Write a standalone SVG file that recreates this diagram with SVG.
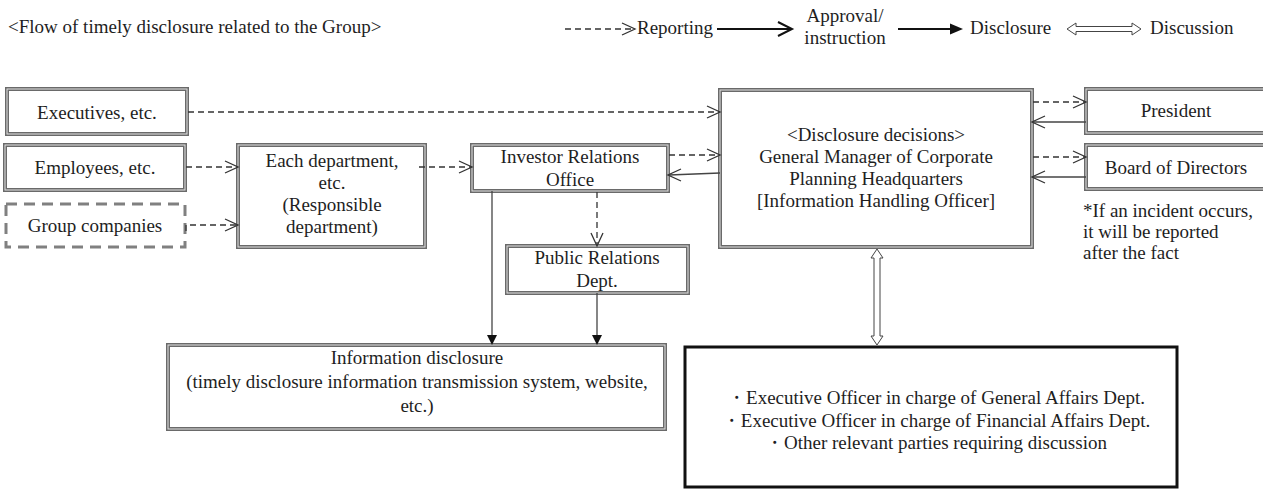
<svg xmlns="http://www.w3.org/2000/svg" width="1263" height="489" viewBox="0 0 1263 489">
  <defs>
    <style>
      text { font-family: "Liberation Serif", "Times New Roman", serif; font-size: 19px; fill: #1e1e1e; }
      .c { text-anchor: middle; }
      .b1 { fill: #fff; stroke: #6a6a6a; stroke-width: 4; }
      .b2 { fill: none; stroke: #e2e2e2; stroke-width: 1; }
      .dbox { fill: #fff; stroke: #808080; stroke-width: 3; stroke-dasharray: 11 7; }
      .bold { fill: #fff; stroke: #111; stroke-width: 3; }
      .dash { fill: none; stroke: #333; stroke-width: 1.3; stroke-dasharray: 6 4; }
      .sol { fill: none; stroke: #444; stroke-width: 1.3; }
      .head { fill: none; stroke: #333; stroke-width: 1.3; }
      .fhead { fill: #111; stroke: none; }
      .hollow { fill: #fff; stroke: #444; stroke-width: 1; }
    </style>
  </defs>

  <!-- Title and legend -->
  <g id="title">
    <text x="8" y="33">&lt;Flow of timely disclosure related to the Group&gt;</text>
  </g>
  <g id="legend">
    <line class="dash" x1="565" y1="29" x2="633" y2="29"/>
    <polyline class="head" points="622,23 635,29 622,35"/>
    <text x="637" y="34">Reporting</text>
    <line x1="717" y1="29" x2="790" y2="29" stroke="#111" stroke-width="2"/>
    <polyline points="778,22 792,29 778,36" fill="none" stroke="#111" stroke-width="2"/>
    <text class="c" x="845" y="22">Approval/</text>
    <text class="c" x="845" y="44">instruction</text>
    <line x1="898" y1="29" x2="952" y2="29" stroke="#111" stroke-width="2"/>
    <polygon class="fhead" points="950,23.5 963,29 950,34.5"/>
    <text x="970" y="34">Disclosure</text>
    <path class="hollow" d="M1067,29 L1076,23 L1076,26.5 L1132,26.5 L1132,23 L1141,29 L1132,35 L1132,31.5 L1076,31.5 L1076,35 Z"/>
    <text x="1150" y="34">Discussion</text>
  </g>

  <!-- Nodes -->
  <g id="executives">
    <rect class="b1" x="7" y="89" width="180" height="45"/>
    <rect class="b2" x="7" y="89" width="180" height="45"/>
    <text class="c" x="97" y="119">Executives, etc.</text>
  </g>
  <g id="employees">
    <rect class="b1" x="5" y="145" width="180" height="45"/>
    <rect class="b2" x="5" y="145" width="180" height="45"/>
    <text class="c" x="95" y="174">Employees, etc.</text>
  </g>
  <g id="group-companies">
    <rect class="dbox" x="6" y="204" width="179" height="43"/>
    <text class="c" x="95" y="232">Group companies</text>
  </g>
  <g id="each-department">
    <rect class="b1" x="238" y="145" width="187" height="102"/>
    <rect class="b2" x="238" y="145" width="187" height="102"/>
    <text class="c" x="332" y="167">Each department,</text>
    <text class="c" x="332" y="189">etc.</text>
    <text class="c" x="332" y="211">(Responsible</text>
    <text class="c" x="332" y="233">department)</text>
  </g>
  <g id="investor-relations">
    <rect class="b1" x="472" y="145" width="196" height="46"/>
    <rect class="b2" x="472" y="145" width="196" height="46"/>
    <text class="c" x="570" y="163">Investor Relations</text>
    <text class="c" x="570" y="186">Office</text>
  </g>
  <g id="public-relations">
    <rect class="b1" x="507" y="246" width="181" height="47"/>
    <rect class="b2" x="507" y="246" width="181" height="47"/>
    <text class="c" x="597" y="264">Public Relations</text>
    <text class="c" x="597" y="287">Dept.</text>
  </g>
  <g id="disclosure-decisions">
    <rect class="b1" x="720" y="90" width="312" height="157"/>
    <rect class="b2" x="720" y="90" width="312" height="157"/>
    <text class="c" x="876" y="141">&lt;Disclosure decisions&gt;</text>
    <text class="c" x="876" y="163">General Manager of Corporate</text>
    <text class="c" x="876" y="185">Planning Headquarters</text>
    <text class="c" x="876" y="207">[Information Handling Officer]</text>
  </g>
  <g id="president">
    <rect class="b1" x="1086" y="89" width="180" height="44"/>
    <rect class="b2" x="1086" y="89" width="180" height="44"/>
    <text class="c" x="1176" y="117">President</text>
  </g>
  <g id="board">
    <rect class="b1" x="1086" y="145" width="180" height="44"/>
    <rect class="b2" x="1086" y="145" width="180" height="44"/>
    <text class="c" x="1176" y="174">Board of Directors</text>
  </g>
  <g id="footnote">
    <text x="1083" y="217">*If an incident occurs,</text>
    <text x="1083" y="238">it will be reported</text>
    <text x="1083" y="259">after the fact</text>
  </g>
  <g id="information-disclosure">
    <rect class="b1" x="168" y="345" width="497" height="84"/>
    <rect class="b2" x="168" y="345" width="497" height="84"/>
    <text class="c" x="417" y="364">Information disclosure</text>
    <text class="c" x="417" y="388">(timely disclosure information transmission system, website,</text>
    <text class="c" x="417" y="412">etc.)</text>
  </g>
  <g id="discussion-parties">
    <rect class="bold" x="685" y="347" width="492" height="140"/>
    <text class="c" x="936" y="404">・Executive Officer in charge of General Affairs Dept.</text>
    <text class="c" x="936" y="427">・Executive Officer in charge of Financial Affairs Dept.</text>
    <text class="c" x="936" y="449">・Other relevant parties requiring discussion</text>
  </g>

  <!-- Connectors -->
  <g id="connectors">
    <line class="dash" x1="188" y1="112" x2="719" y2="112"/>
    <polyline class="head" points="707,106 720,112 707,118"/>
    <line class="dash" x1="186" y1="167" x2="237" y2="167"/>
    <polyline class="head" points="225,161 238,167 225,173"/>
    <polyline class="dash" points="186,231 186,225 237,225"/>
    <polyline class="head" points="225,219 238,225 225,231"/>
    <line class="dash" x1="419" y1="167" x2="471" y2="167"/>
    <polyline class="head" points="459,161 472,167 459,173"/>
    <line class="dash" x1="669" y1="155" x2="719" y2="155"/>
    <polyline class="head" points="707,149 720,155 707,161"/>
    <line class="dash" x1="597" y1="192" x2="597" y2="245"/>
    <polyline class="head" points="591,233 597,246 603,233"/>
    <line class="dash" x1="1033" y1="102" x2="1085" y2="102"/>
    <polyline class="head" points="1073,96 1086,102 1073,108"/>
    <line class="dash" x1="1033" y1="157" x2="1085" y2="157"/>
    <polyline class="head" points="1073,151 1086,157 1073,163"/>
    <line class="sol" x1="720" y1="173" x2="669" y2="175"/>
    <polyline class="head" points="681,169 668,175 681,181"/>
    <line class="sol" x1="1086" y1="122" x2="1033" y2="122"/>
    <polyline class="head" points="1045,116 1032,122 1045,128"/>
    <line class="sol" x1="1086" y1="177" x2="1033" y2="177"/>
    <polyline class="head" points="1045,171 1032,177 1045,183"/>
    <line class="sol" x1="492" y1="191" x2="492" y2="336"/>
    <polygon class="fhead" points="487,335 497,335 492,345"/>
    <line class="sol" x1="597" y1="293" x2="597" y2="336"/>
    <polygon class="fhead" points="592,335 602,335 597,345"/>
    <path class="hollow" d="M877,249 L883,258 L880,258 L880,336 L883,336 L877,345 L871,336 L874,336 L874,258 L871,258 Z"/>
  </g>
</svg>
